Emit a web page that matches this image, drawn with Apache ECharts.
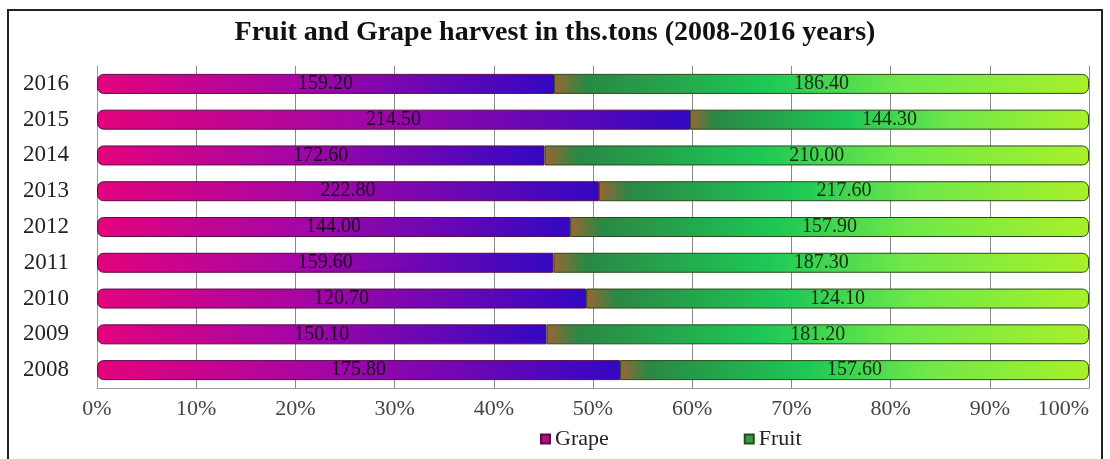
<!DOCTYPE html>
<html>
<head>
<meta charset="utf-8">
<script src="https://cdn.jsdelivr.net/npm/echarts@6/dist/echarts.min.js"></script>
<style>
    body { margin: 0; background: #fff; }
    #frame {
        position: absolute; left: 7px; top: 9px; width: 1092px; height: 460px;
        border: 2px solid #222; border-bottom: none;
    }
    #chart { position: absolute; left: 0; top: 0; width: 1110px; height: 459px; }
</style>
</head>
<body>
<div id="frame"></div>
<div id="chart"></div>
<script>
// data
const years = ['2008', '2009', '2010', '2011', '2012', '2013', '2014', '2015', '2016']
const grape = [175.8, 150.1, 120.7, 159.6, 144.0, 222.8, 172.6, 214.5, 159.2]
const fruit = [157.6, 181.2, 124.1, 187.3, 157.9, 217.6, 210.0, 144.3, 186.4]
const xTicks = ['0%', '10%', '20%', '30%', '40%', '50%', '60%', '70%', '80%', '90%', '100%']

// 100% stacked -> share of each year's total
let grapeShare = []
let fruitShare = []
for (let i = 0; i < years.length; i++) {
    let total = grape[i] + fruit[i]
    grapeShare.push(grape[i] / total * 100)
    fruitShare.push(fruit[i] / total * 100)
}

const serif = '"Liberation Serif", "DejaVu Serif", serif'

const grapeColor = new echarts.graphic.LinearGradient(0, 0, 1, 0, [
    { offset: 0, color: '#e4037c' },
    { offset: 0.45, color: '#a206a6' },
    { offset: 1, color: '#3208c2' }
])
const fruitColor = new echarts.graphic.LinearGradient(0, 0, 1, 0, [
    { offset: 0, color: '#9c6434' },
    { offset: 0.06, color: '#2a8844' },
    { offset: 0.4, color: '#1ec856' },
    { offset: 0.65, color: '#6ee84a' },
    { offset: 1, color: '#a8f02a' }
])

let chart = echarts.init(document.getElementById('chart'))
chart.setOption({
    animation: false,
    title: {
        text: 'Fruit and Grape harvest in ths.tons (2008-2016 years)',
        left: 'center',
        top: 14,
        textStyle: { fontFamily: serif, fontSize: 28, fontWeight: 'bold', color: '#111' }
    },
    legend: {
        bottom: 4,
        left: 535,
        itemGap: 135,
        itemWidth: 9,
        itemHeight: 9,
        icon: 'rect',
        textStyle: { fontFamily: serif, fontSize: 22, color: '#222' },
        data: [
            { name: 'Grape', itemStyle: { color: '#b0107a' } },
            { name: 'Fruit', itemStyle: { color: '#3a9a4a' } }
        ]
    },
    grid: { left: 97, right: 21, top: 66, bottom: 71, containLabel: false, outerBoundsMode: 'none' },
    xAxis: {
        type: 'value',
        min: 0,
        max: 100,
        interval: 10,
        axisLine: { show: true, lineStyle: { color: '#999' } },
        axisTick: { show: false },
        splitLine: { lineStyle: { color: '#8a8a8a' } },
        axisLabel: {
            margin: 10,
            fontFamily: serif,
            fontSize: 22,
            color: '#444',
            alignMaxLabel: 'right',
            formatter: (v) => xTicks[Math.round(v / 10)]
        }
    },
    yAxis: {
        type: 'category',
        data: years,
        axisLine: { show: true, lineStyle: { color: '#999' } },
        axisTick: { show: false },
        axisLabel: { margin: 28, fontFamily: serif, fontSize: 23, color: '#222' }
    },
    series: [
        {
            name: 'Grape',
            type: 'bar',
            stack: 'all',
            barWidth: 20,
            data: grapeShare,
            itemStyle: {
                color: grapeColor,
                borderColor: '#5a0a4a',
                borderWidth: 1,
                borderRadius: [6, 0, 0, 6]
            },
            label: {
                show: true,
                position: 'inside',
                fontFamily: serif,
                fontSize: 20,
                color: '#1a061a',
                formatter: (p) => grape[p.dataIndex].toFixed(2)
            }
        },
        {
            name: 'Fruit',
            type: 'bar',
            stack: 'all',
            barWidth: 20,
            data: fruitShare,
            itemStyle: {
                color: fruitColor,
                borderColor: '#2a4a1a',
                borderWidth: 1,
                borderRadius: [0, 6, 6, 0]
            },
            label: {
                show: true,
                position: 'inside',
                fontFamily: serif,
                fontSize: 20,
                color: '#1a2a10',
                formatter: (p) => fruit[p.dataIndex].toFixed(2)
            }
        }
    ]
})
</script>
</body>
</html>
